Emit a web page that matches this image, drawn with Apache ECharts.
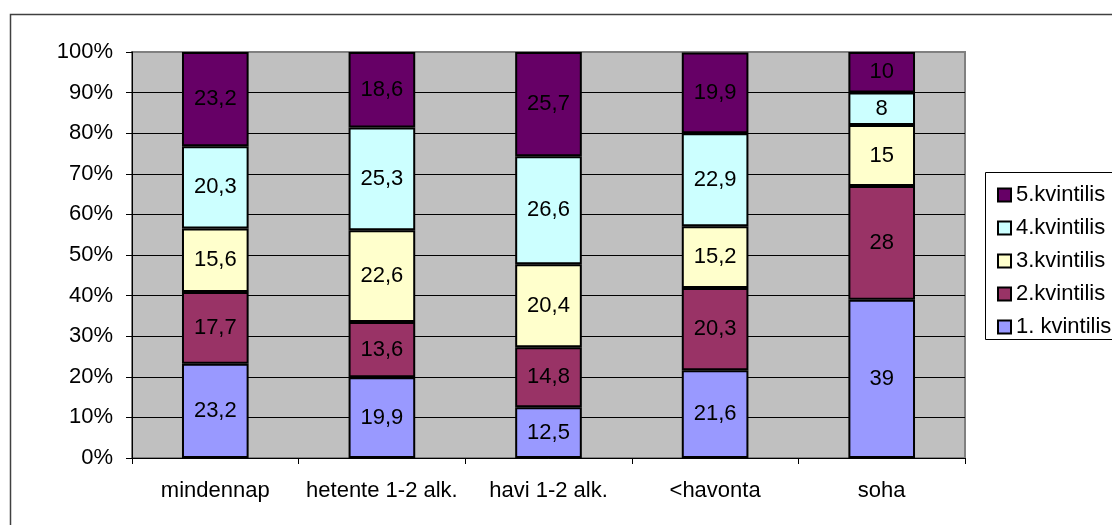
<!DOCTYPE html>
<html>
<head>
<meta charset="utf-8">
<script src="https://cdn.jsdelivr.net/npm/echarts@6/dist/echarts.min.js"></script>
<style>
  html, body { margin: 0; padding: 0; background: #fff; }
  #chart { width: 1112px; height: 525px; }
</style>
</head>
<body>
<div id="chart"></div>
<script>
  // kategóriák és kvintilisek (%)
  const categories = ['mindennap', 'hetente 1-2 alk.', 'havi 1-2 alk.', '<havonta', 'soha']
  const seriesNames = ['1. kvintilis', '2.kvintilis', '3.kvintilis', '4.kvintilis', '5.kvintilis']
  const q1 = [23.2, 19.9, 12.5, 21.6, 39]
  const q2 = [17.7, 13.6, 14.8, 20.3, 28]
  const q3 = [15.6, 22.6, 20.4, 15.2, 15]
  const q4 = [20.3, 25.3, 26.6, 22.9, 8]
  const q5 = [23.2, 18.6, 25.7, 19.9, 10]
  const colors = ['#9999FF', '#993366', '#FFFFCC', '#CCFFFF', '#660066']

  const chart = echarts.init(document.getElementById('chart'))
  const font = 'Liberation Sans, Arial, sans-serif'

  // rácsvonalak: a felső (100%) szürke, a többi fekete
  const gridColors = ['#000', '#000', '#000', '#000', '#000', '#000', '#000', '#000', '#000', '#000', '#808080']

  chart.setOption({
    animation: false,
    textStyle: { fontFamily: font },
    graphic: [
      {
        type: 'rect',
        shape: { x: 10.5, y: 14.5, width: 1110, height: 520 },
        style: { fill: 'none', stroke: '#404040', lineWidth: 1.5 },
        silent: true
      },
      {
        type: 'rect',
        shape: { x: 985.5, y: 172.5, width: 140, height: 167 },
        style: { fill: '#fff', stroke: '#000', lineWidth: 1 },
        silent: true
      }
    ],
    legend: {
      orient: 'vertical',
      left: 992,
      top: 179,
      itemWidth: 13,
      itemHeight: 13,
      itemGap: 11,
      icon: 'rect',
      data: seriesNames.slice().reverse(),
      itemStyle: { borderColor: '#000', borderWidth: 2 },
      textStyle: { fontSize: 22, color: '#000', lineHeight: 22 }
    },
    grid: {
      left: 132,
      right: 147,
      top: 52,
      bottom: 67,
      show: true,
      backgroundColor: '#C0C0C0',
      borderColor: '#808080',
      borderWidth: 2
    },
    xAxis: {
      type: 'category',
      data: categories,
      axisLine: { lineStyle: { color: '#000', width: 1 } },
      axisTick: { show: true, length: 6, lineStyle: { color: '#000' } },
      axisLabel: { color: '#000', fontSize: 22, margin: 22, interval: 0, hideOverlap: false }
    },
    yAxis: {
      type: 'value',
      min: 0,
      max: 100,
      interval: 10,
      axisLine: { show: true, lineStyle: { color: '#000', width: 1 } },
      axisTick: { show: true, length: 6, lineStyle: { color: '#000' } },
      axisLabel: { color: '#000', fontSize: 22, margin: 19, formatter: '{value}%' },
      splitLine: { lineStyle: { color: gridColors, width: 1 } }
    },
    series: [q1, q2, q3, q4, q5].map((d, i) => ({
      name: seriesNames[i],
      type: 'bar',
      stack: 'total',
      barWidth: '40%',
      data: d,
      itemStyle: { color: colors[i], borderColor: '#000', borderWidth: 2 },
      label: {
        show: true,
        position: 'inside',
        color: '#000',
        fontSize: 22,
        formatter: p => String(p.value).replace('.', ',')
      }
    }))
  })
</script>
</body>
</html>
